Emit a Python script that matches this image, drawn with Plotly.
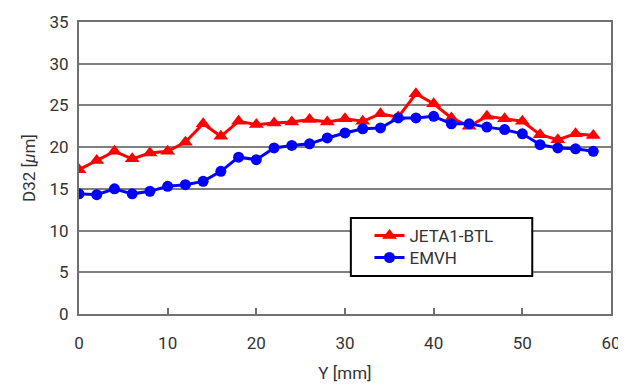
import plotly.graph_objects as go

y_pos = [0, 2, 4, 6, 8, 10, 12, 14, 16, 18, 20, 22, 24, 26, 28,
         30, 32, 34, 36, 38, 40, 42, 44, 46, 48, 50, 52, 54, 56, 58]
jeta1_btl = [17.3, 18.4, 19.5, 18.6, 19.3, 19.5, 20.6, 22.8, 21.3, 23.1,
             22.7, 22.9, 23.0, 23.3, 23.0, 23.4, 23.1, 24.0, 23.6, 26.4,
             25.2, 23.5, 22.5, 23.7, 23.4, 23.1, 21.5, 20.9, 21.6, 21.4]
emvh = [14.4, 14.3, 15.0, 14.4, 14.7, 15.3, 15.5, 15.9, 17.1, 18.8,
        18.5, 19.9, 20.2, 20.4, 21.1, 21.7, 22.2, 22.3, 23.5, 23.5,
        23.7, 22.8, 22.8, 22.4, 22.1, 21.6, 20.3, 19.9, 19.8, 19.5]

FONT = "Roboto, Liberation Sans, sans-serif"
TXT = "#333333"

fig = go.Figure()
fig.add_trace(go.Scatter(
    x=y_pos, y=jeta1_btl, name="JETA1-BTL", mode="lines+markers",
    line=dict(color="#ff0000", width=3),
    marker=dict(symbol="triangle-up", size=13, color="#ff0000"),
    legend="legend",
))
fig.add_trace(go.Scatter(
    x=y_pos, y=emvh, name="EMVH", mode="lines+markers",
    line=dict(color="#0000ff", width=3),
    marker=dict(symbol="circle", size=11, color="#0000ff"),
    legend="legend2",
))

# legend frame
fig.add_shape(type="rect", xref="paper", yref="paper",
              x0=0.511, x1=0.852, y0=0.130, y1=0.329,
              line=dict(color="black", width=2), fillcolor="white",
              layer="above")

leg_common = dict(xanchor="left", yanchor="middle",
                  bgcolor="rgba(0,0,0,0)", borderwidth=0,
                  font=dict(family=FONT, size=17, color=TXT))

fig.update_layout(
    width=618, height=377,
    margin=dict(l=71, r=15, t=14, b=71),
    paper_bgcolor="white", plot_bgcolor="white",
    font=dict(family=FONT, size=17, color=TXT),
    showlegend=True,
    legend=dict(x=0.546, y=0.267, **leg_common),
    legend2=dict(x=0.546, y=0.192, **leg_common),
    xaxis=dict(
        range=[0, 60], tickvals=[0, 10, 20, 30, 40, 50, 60],
        showgrid=False, zeroline=False, automargin=False,
        showline=True, linecolor="#707070", linewidth=2, mirror=True,
        ticks="inside", ticklen=6, tickcolor="#707070", tickwidth=1.5,
        ticklabelstandoff=13,
        title=dict(text="Y [mm]", standoff=15, font=dict(family=FONT, size=17)),
    ),
    yaxis=dict(
        range=[0, 35], tickvals=[0, 5, 10, 15, 20, 25, 30, 35],
        showgrid=True, gridcolor="#808080", gridwidth=1.5,
        zeroline=False, automargin=False,
        showline=True, linecolor="#707070", linewidth=2, mirror=True,
        ticks="", ticklabelstandoff=5,
        title=dict(text="D32 [<i>μ</i>m]", standoff=10, font=dict(family=FONT, size=17)),
    ),
)

fig.write_html("out.html")
